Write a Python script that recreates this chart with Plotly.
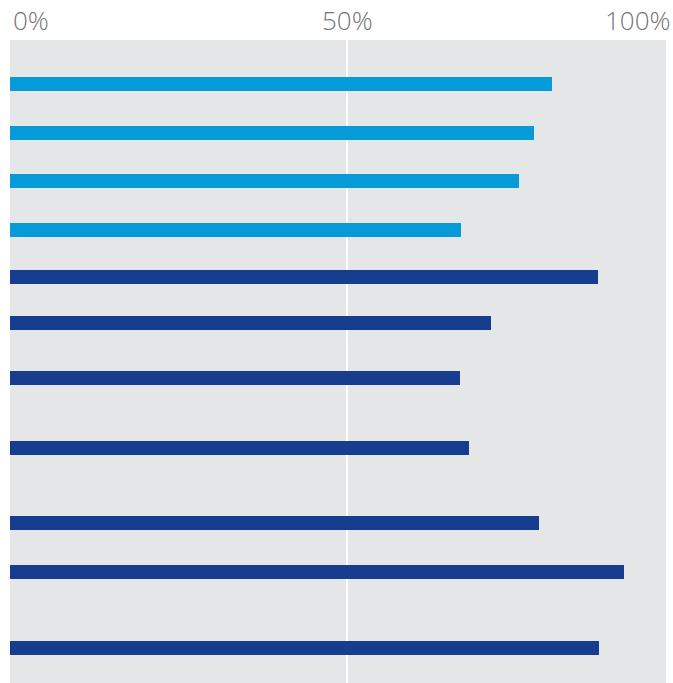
import plotly.graph_objects as go

# Share of respondents (%) for each row, top to bottom
values = [80.5, 77.8, 75.6, 67.0, 87.3, 71.4, 66.8, 68.2, 78.6, 91.2, 87.5]
groups = ["A", "A", "A", "A", "B", "B", "B", "B", "B", "B", "B"]
tick_labels = ["0%", "50%", "100%"]

# Vertical row centres (rows are grouped with uneven gaps)
row_y = [44, 93, 141, 190, 237, 283, 338, 408, 483, 532, 608]

group_colors = {"A": "#069BD8", "B": "#163D8E"}

fig = go.Figure(
    go.Bar(
        x=values,
        y=row_y,
        orientation="h",
        width=14,
        marker=dict(color=[group_colors[g] for g in groups], line=dict(width=0)),
        hoverinfo="x",
    )
)

fig.update_layout(
    width=673,
    height=683,
    margin=dict(l=10, r=7, t=40, b=0),
    paper_bgcolor="white",
    plot_bgcolor="#E5E6E8",
    showlegend=False,
    bargap=0,
)

fig.update_xaxes(
    range=[0, 97.4],
    tickvals=[50],
    showticklabels=False,
    showgrid=True,
    gridcolor="white",
    gridwidth=1.5,
    zeroline=False,
    showline=False,
    fixedrange=True,
)
fig.update_yaxes(
    range=[643, 0],
    showticklabels=False,
    showgrid=False,
    zeroline=False,
    showline=False,
    fixedrange=True,
)

tick_font = dict(family="'Open Sans', sans-serif", size=26, color="#767676", weight=300)
fig.add_annotation(x=0, y=1, xref="x", yref="paper", text=tick_labels[0], showarrow=False,
                   xanchor="left", yanchor="bottom", xshift=1, yshift=0, font=tick_font)
fig.add_annotation(x=50, y=1, xref="x", yref="paper", text=tick_labels[1], showarrow=False,
                   xanchor="center", yanchor="bottom", xshift=1, yshift=0, font=tick_font)
fig.add_annotation(x=1, y=1, xref="paper", yref="paper", text=tick_labels[2], showarrow=False,
                   xanchor="right", yanchor="bottom", xshift=7, yshift=0, font=tick_font)

fig.write_html("out.html")
